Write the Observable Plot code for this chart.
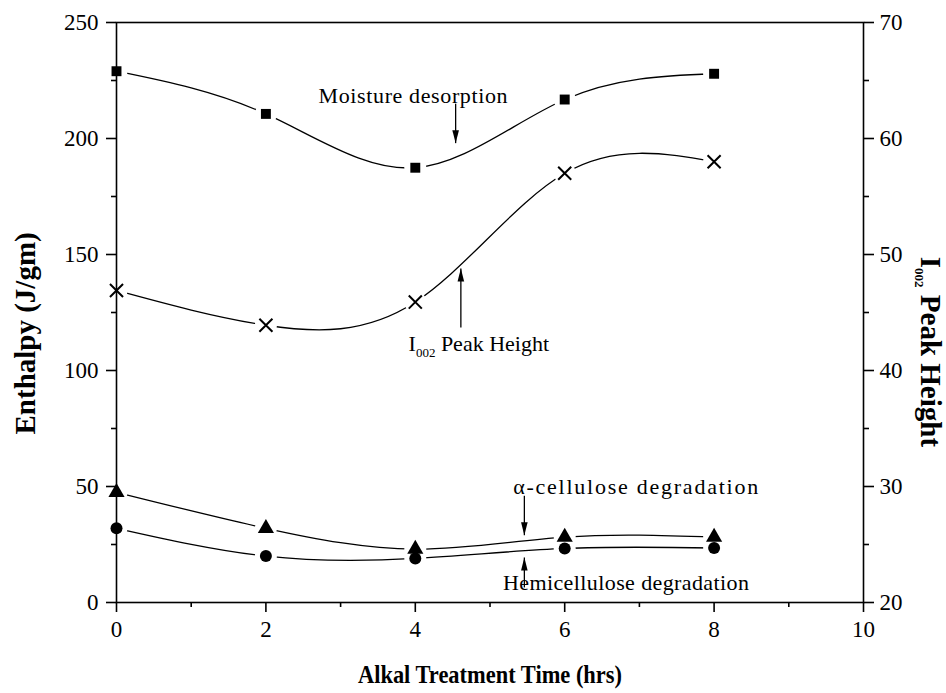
<!DOCTYPE html>
<html><head><meta charset="utf-8">
<script src="https://cdn.jsdelivr.net/npm/d3@7"></script>
<script src="https://cdn.jsdelivr.net/npm/@observablehq/plot@0.6"></script>
<style>html,body{margin:0;padding:0;background:#fff;} svg{display:block}</style>
</head><body><div id="chart"></div>
<script>
// ---- data ----
const time = [0, 2, 4, 6, 8];
const moisture = [229, 210.6, 187.4, 216.8, 227.9];        // Enthalpy, J/gm (left axis)
const alphaCellulose = [47.5, 32, 23, 28.2, 28.2];          // Enthalpy, J/gm (left axis)
const hemicellulose = [32, 20, 19, 23.3, 23.5];             // Enthalpy, J/gm (left axis)
const peakHeight = [46.9, 43.9, 45.9, 57.0, 58.0];          // I002 peak height (right axis)

const xTicks = [0, 2, 4, 6, 8, 10];
const xMinor = [1, 3, 5, 7, 9];
const leftTicks = [0, 50, 100, 150, 200, 250];
const leftMinor = [25, 75, 125, 175, 225];
const rightTicks = [20, 30, 40, 50, 60, 70];
const rightMinor = [25, 35, 45, 55, 65];

const xTitle = "Alkal Treatment Time (hrs)";
const leftTitle = "Enthalpy (J/gm)";
const rightTitle = "I002 Peak Height";

const annotations = [
  {label: "Moisture desorption", x: 3.97, y: 218.5},
  {label: "I002 Peak Height", x: 4.85, y: 111.6},
  {label: "α-cellulose degradation", x: 6.95, y: 49.6},
  {label: "Hemicellulose degradation", x: 6.82, y: 8.6}
];
const arrows = [
  {x: 4.54, from: 215, to: 198},
  {x: 4.61, from: 118.5, to: 144},
  {x: 5.46, from: 46, to: 29},
  {x: 5.46, from: 6.5, to: 19.4}
];

// ---- mapping right axis (20..70) onto left scale (0..250) ----
const toLeft = v => (v - 20) * 5;
const fromLeft = v => 20 + v / 5;

const mk = (name, vals, conv = v => v) => time.map((t, i) => ({series: name, t, v: conv(vals[i])}));
const sMoist = mk("moisture", moisture);
const sPeak = mk("peak", peakHeight, toLeft);
const sAlpha = mk("alpha", alphaCellulose);
const sHemi = mk("hemi", hemicellulose);
const all = [...sMoist, ...sPeak, ...sAlpha, ...sHemi];

const head = {
  draw(ctx) { const L = 13, W = 3.3; ctx.moveTo(0, 0); ctx.lineTo(W, L); ctx.lineTo(-W, L); ctx.closePath(); }
};

const FONT = "'Liberation Serif', 'Times New Roman', serif";

const chart = Plot.plot({
  width: 946, height: 693,
  marginLeft: 116, marginRight: 83, marginTop: 22, marginBottom: 91,
  style: {fontFamily: FONT, fontSize: "23px", background: "#fff", color: "#000", overflow: "visible"},
  x: {domain: [0, 10]},
  y: {domain: [0, 250]},
  marks: [
    Plot.line(all, {x: "t", y: "v", z: "series", curve: "natural", stroke: "#000", strokeWidth: 1.3}),
    Plot.dot(all, {x: "t", y: "v", r: 11, fill: "#fff", stroke: null}),
    Plot.frame({stroke: "#000", strokeWidth: 1.6}),
    Plot.axisX(xTicks, {anchor: "bottom", tickSize: 10, tickPadding: 8, strokeWidth: 1.6, fontSize: 23, label: null}),
    Plot.axisX(xMinor, {anchor: "bottom", tickSize: 5, strokeWidth: 1.6, tickFormat: () => "", label: null}),
    Plot.axisY(leftTicks, {anchor: "left", tickSize: 10, tickPadding: 8, strokeWidth: 1.6, fontSize: 23, label: null}),
    Plot.axisY(leftMinor, {anchor: "left", tickSize: 5, strokeWidth: 1.6, tickFormat: () => "", label: null}),
    Plot.axisY(rightTicks.map(toLeft), {anchor: "right", tickSize: 10, tickPadding: 6, strokeWidth: 1.6, fontSize: 23, tickFormat: d => String(fromLeft(d)), label: null}),
    Plot.axisY(rightMinor.map(toLeft), {anchor: "right", tickSize: 5, strokeWidth: 1.6, tickFormat: () => "", label: null}),
    Plot.dot(sMoist, {x: "t", y: "v", symbol: "square", r: 5.6, fill: "#000", stroke: null}),
    Plot.dot(sPeak, {x: "t", y: "v", symbol: "times", r: 6, stroke: "#000", strokeWidth: 2}),
    Plot.dot(sHemi, {x: "t", y: "v", symbol: "circle", r: 6, fill: "#000", stroke: null}),
    Plot.dot(sAlpha, {x: "t", y: "v", symbol: "triangle", r: 6, fill: "#000", stroke: null}),
    Plot.link(arrows, {x1: "x", x2: "x", y1: "from", y2: "to", stroke: "#000", strokeWidth: 1.3}),
    Plot.dot(arrows, {x: "x", y: "to", symbol: head, r: 4, fill: "#000", stroke: null, rotate: d => (d.to < d.from ? 180 : 0)}),
    Plot.text(annotations, {x: "x", y: "y", text: "label", fontSize: 22, fill: "#000"}),
    Plot.text([xTitle], {frameAnchor: "bottom", x: () => 5, text: d => d, dy: 72, textAnchor: "middle", lineAnchor: "middle", fontSize: 26, fontWeight: "bold", fill: "#000"}),
    Plot.text([leftTitle], {frameAnchor: "left", y: () => 116, text: d => d, dx: -91, textAnchor: "middle", lineAnchor: "middle", rotate: -90, fontSize: 29, fontWeight: "bold", fill: "#000"}),
    Plot.text([rightTitle], {frameAnchor: "right", y: () => 108, text: d => d, dx: 67, textAnchor: "middle", lineAnchor: "middle", rotate: 90, fontSize: 29, fontWeight: "bold", fill: "#000"})
  ]
});

// ---- text refinements: subscript for I002 and widths matching the reference ----
const widths = {
  "Moisture desorption": [189, "spacing"],
  "α-cellulose degradation": [245, "spacing"],
  "Hemicellulose degradation": [246, "spacing"],
  [xTitle]: [264, "spacingAndGlyphs"]
};
d3.select(chart).selectAll("text").each(function () {
  const t = this.textContent;
  const el = d3.select(this);
  if (widths[t]) {
    el.attr("textLength", widths[t][0]).attr("lengthAdjust", widths[t][1]);
  }
  if (t.startsWith("I002")) {
    const fs = parseFloat(getComputedStyle(this).fontSize) || 22;
    const sh = Math.round(fs * 0.28);
    const rest = t.slice(4);
    el.text(null);
    el.append("tspan").text("I");
    el.append("tspan").attr("font-size", Math.round(fs * 0.6)).attr("dy", sh).text("002");
    el.append("tspan").attr("dy", -sh).text(rest);
  }
});

document.getElementById("chart").appendChild(chart);
</script>
</body></html>
